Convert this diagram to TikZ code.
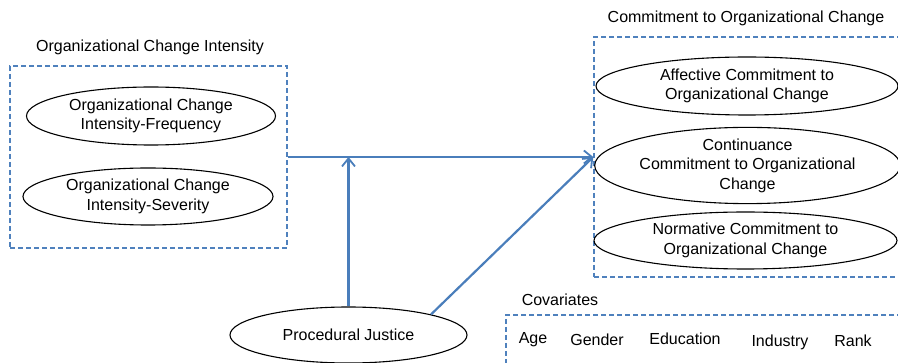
\documentclass[tikz,border=0pt]{standalone}
\usepackage{fontspec}
\setmainfont{Liberation Sans}
\usetikzlibrary{shapes.geometric,arrows.meta}
\definecolor{dashblue}{RGB}{79,129,189}
\definecolor{arrowblue}{RGB}{74,126,187}
\begin{document}
\begin{tikzpicture}[x=1pt,y=1pt,
  every node/.style={font=\fontsize{16}{19.5}\selectfont},
  oval/.style={ellipse,draw=black,line width=1.1pt,inner sep=0pt,align=center},
  groupbox/.style={draw=dashblue,dash pattern=on 5pt off 3pt,line width=1.4pt,rectangle,inner sep=0pt},
  link/.style={draw=arrowblue,line width=2.2pt,-{Straight Barb[length=8pt,width=13pt,line width=1.8pt]}}]
\useasboundingbox (0,0) rectangle (898,-363);
% left group
\node (ltitle) at (150,-47) {Organizational Change Intensity};
\node[groupbox,minimum width=277pt,minimum height=182pt] (lbox) at (148.5,-157) {};
\node[oval,minimum width=249pt,minimum height=58pt] (freq) at (151,-116) {Organizational Change\\Intensity-Frequency};
\node[oval,minimum width=250pt,minimum height=57pt] (sev) at (148,-196.5) {Organizational Change\\Intensity-Severity};
% right group
\node (rtitle) at (746,-18) {Commitment to Organizational Change};
\node[groupbox,minimum width=306pt,minimum height=240pt] (rbox) at (747,-157) {};
\node[oval,minimum width=302pt,minimum height=58pt] (aff) at (747,-86) {Affective Commitment to\\Organizational Change};
\node[oval,minimum width=301pt,minimum height=56pt] (cont) at (747.5,-165.5) {Continuance\\Commitment to Organizational\\Change};
\node[oval,minimum width=303pt,minimum height=57pt] (norm) at (745.5,-240.5) {Normative Commitment to\\Organizational Change};
% procedural justice
\node[oval,minimum width=237pt,minimum height=56pt] (pj) at (348.5,-335) {Procedural Justice};
% covariates
\node (ctitle) at (560,-300) {Covariates};
\node[groupbox,minimum width=400pt,minimum height=60pt] (cbox) at (706,-345) {};
\node (age) at (533,-340) {Age};
\node (gender) at (597,-340) {Gender};
\node (edu) at (685,-339) {Education};
\node (ind) at (780,-342) {Industry};
\node (rank) at (853,-341) {Rank};
% connectors
\draw[link] (lbox.east) -- (rbox.west);
\coordinate (mod) at (pj.north |- lbox.east);
\draw[link] (pj.north) -- (mod);
\draw[link] (pj.14) -- (rbox.west);
\end{tikzpicture}
\end{document}
